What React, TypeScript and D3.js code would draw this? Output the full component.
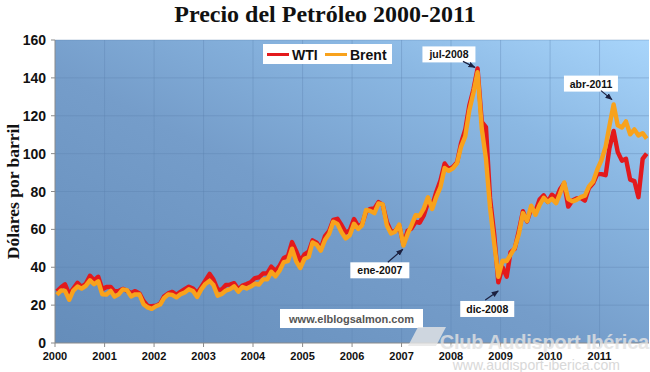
import React from 'react'
import * as d3 from 'd3'

// monthly prices, Jan 2000 .. Dec 2011 (USD per barrel)
const startYear = 2000

const wti = [
  27.3, 29.4, 31.0, 25.7, 28.8, 31.8, 29.7, 31.3, 35.5, 33.1, 35.0, 28.4,
  29.6, 29.6, 27.2, 27.5, 28.6, 27.6, 26.4, 27.4, 26.2, 22.2, 19.6, 19.4,
  19.7, 20.7, 24.5, 26.2, 27.0, 25.5, 27.0, 28.4, 29.7, 28.8, 26.4, 29.5,
  33.0, 36.5, 33.5, 28.2, 28.1, 30.7, 30.8, 31.6, 28.3, 30.3, 31.1, 32.1,
  34.3, 34.7, 36.7, 36.8, 40.3, 38.0, 40.8, 44.9, 45.9, 53.3, 48.5, 43.2,
  46.8, 48.2, 54.2, 53.0, 49.8, 56.4, 59.0, 65.0, 65.6, 62.3, 58.3, 59.4,
  65.5, 61.6, 62.7, 69.4, 70.8, 71.0, 74.4, 73.0, 63.8, 58.9, 59.1, 62.0,
  52.0, 59.3, 60.4, 64.0, 63.5, 67.5, 74.1, 72.4, 79.9, 85.8, 94.8, 91.7,
  93.0, 95.4, 105.5, 112.6, 125.4, 134.0, 145.0, 116.7, 114.0, 76.6, 57.3, 32.0,
  40.0, 35.0, 47.9, 49.7, 59.0, 69.6, 64.2, 71.1, 69.4, 75.7, 78.0, 74.5,
  78.3, 76.4, 81.2, 84.3, 72.0, 75.3, 76.3, 76.6, 75.2, 81.9, 84.3, 89.2,
  89.2, 88.6, 102.9, 112.0, 100.9, 96.3, 97.3, 86.3, 85.5, 77.0, 97.2, 100.0,
]

const brent = [
  25.5, 27.8, 27.5, 22.8, 27.7, 29.8, 28.7, 30.2, 33.1, 31.0, 32.6, 25.7,
  25.6, 27.5, 24.5, 25.7, 28.3, 27.9, 24.6, 25.7, 25.6, 20.5, 18.8, 18.0,
  19.4, 20.3, 23.7, 25.7, 25.4, 24.1, 25.7, 26.7, 28.4, 27.5, 24.3, 28.3,
  31.2, 32.8, 30.6, 25.0, 25.9, 27.7, 28.4, 29.9, 27.1, 29.6, 28.8, 29.8,
  31.3, 30.9, 33.6, 33.6, 37.6, 35.2, 38.2, 42.7, 43.2, 49.8, 43.1, 39.6,
  44.5, 45.5, 53.1, 51.9, 48.7, 54.4, 57.5, 64.0, 62.9, 58.5, 55.2, 56.9,
  63.0, 60.2, 62.1, 70.3, 69.8, 68.6, 73.7, 73.2, 62.0, 57.8, 58.8, 62.5,
  51.5, 57.6, 62.1, 67.5, 67.2, 71.1, 76.9, 70.8, 77.2, 82.3, 92.4, 90.9,
  92.2, 95.0, 103.6, 109.1, 122.8, 132.3, 143.0, 113.2, 97.2, 71.6, 52.5, 35.0,
  43.4, 43.3, 46.5, 50.2, 57.3, 68.6, 64.4, 72.5, 67.7, 72.8, 76.7, 74.5,
  76.2, 73.8, 78.8, 84.8, 76.0, 74.8, 75.6, 77.0, 77.8, 82.7, 85.3, 91.5,
  96.5, 103.7, 114.6, 126.0, 115.0, 113.8, 117.0, 110.2, 112.8, 109.6, 110.8, 107.9,
]

const yearLabels = ['2000', '2001', '2002', '2003', '2004', '2005', '2006', '2007', '2008', '2009', '2010', '2011']
const yTicks = [0, 20, 40, 60, 80, 100, 120, 140, 160]

// annotated points: date, price, box offset from the point, arrow start offset from the point
const notes = [
  { label: 'jul-2008', date: new Date(2008, 6, 3), value: 145, bx: -27, by: -14, w: 53, ax: -13, ay: -7 },
  { label: 'abr-2011', date: new Date(2011, 3, 10), value: 128, bx: -22, by: -17, w: 54, ax: -12, ay: -10 },
  { label: 'ene-2007', date: new Date(2007, 0, 18), value: 50, bx: -24, by: 22, w: 59, ax: -16, ay: 14 },
  { label: 'dic-2008', date: new Date(2008, 11, 22), value: 28, bx: -12, by: 19, w: 54, ax: -14, ay: 10 },
]

const W = 650
const H = 372
const margin = { top: 40, right: 1, bottom: 29, left: 55 }

const sans = "Arial, 'Liberation Sans', Helvetica, sans-serif"
const serif = "'Times New Roman', 'Liberation Serif', serif"

export default function App() {
  const x = d3.scaleTime()
    .domain([new Date(startYear, 0, 1), new Date(startYear + 12, 0, 1)])
    .range([margin.left, W - margin.right])
  const y = d3.scaleLinear()
    .domain([0, 160])
    .range([H - margin.bottom, margin.top])

  const monthDate = (i: number) => new Date(startYear + Math.floor(i / 12), i % 12, 15)

  const line = d3.line<number>()
    .x((d, i) => x(monthDate(i)))
    .y(d => y(d))

  const x0 = x.range()[0]
  const x1 = x.range()[1]
  const y0 = y.range()[0]
  const y1 = y.range()[1]
  const yearDates = yearLabels.map(l => new Date(+l, 0, 1))

  return (
    <div>
      <style>{'body{margin:0}'}</style>
      <svg width={W} height={H} style={{ display: 'block', background: '#fff' }}>
        <defs>
          <linearGradient id="bg" x1="0" y1="1" x2="1" y2="0">
            <stop offset="0" stopColor="#658dba" />
            <stop offset="0.45" stopColor="#759dca" />
            <stop offset="0.75" stopColor="#8bb8e3" />
            <stop offset="1" stopColor="#a8d5fb" />
          </linearGradient>
          <marker id="arr" viewBox="0 0 10 10" refX="9" refY="5" markerWidth="6" markerHeight="6" orient="auto">
            <path d="M0,1 L10,5 L0,9 Z" fill="#1c2140" />
          </marker>
        </defs>

        {/* title */}
        <text x={W / 2} y={22} textAnchor="middle" fontFamily={serif} fontWeight="bold" fontSize={24} fill="#111">
          Precio del Petróleo 2000-2011
        </text>

        {/* plot area */}
        <rect x={x0} y={y1} width={x1 - x0} height={y0 - y1} fill="url(#bg)" />

        {/* grid */}
        {yTicks.slice(1).map(t => (
          <line key={'gy' + t} x1={x0} x2={x1} y1={y(t)} y2={y(t)} stroke="#5a80ad" strokeOpacity={0.45} strokeWidth={0.8} />
        ))}
        {yearDates.slice(1).map((d, i) => (
          <line key={'gx' + i} x1={x(d)} x2={x(d)} y1={y1} y2={y0} stroke="#5a80ad" strokeOpacity={0.45} strokeWidth={0.8} />
        ))}

        {/* axes */}
        <line x1={x0} x2={x0} y1={y1} y2={y0} stroke="#8a8a8a" strokeWidth={1} />
        <line x1={x0} x2={x1} y1={y0} y2={y0} stroke="#8a8a8a" strokeWidth={1} />
        {yTicks.map(t => (
          <g key={'yt' + t}>
            <line x1={x0 - 4} x2={x0} y1={y(t)} y2={y(t)} stroke="#8a8a8a" />
            <text x={x0 - 9} y={y(t) + 5} textAnchor="end" fontFamily={sans} fontWeight="bold" fontSize={14} fill="#111">{t}</text>
          </g>
        ))}
        {yearDates.map((d, i) => (
          <g key={'xt' + i}>
            <line x1={x(d)} x2={x(d)} y1={y0} y2={y0 + 4} stroke="#8a8a8a" />
            <text x={x(d)} y={y0 + 17} textAnchor="middle" fontFamily={sans} fontWeight="bold" fontSize={11} fill="#111">{yearLabels[i]}</text>
          </g>
        ))}
        <text transform={`translate(19,${(y0 + y1) / 2}) rotate(-90)`} textAnchor="middle" fontFamily={serif} fontWeight="bold" fontSize={17.5} fill="#111">
          Dólares por barril
        </text>

        {/* series */}
        <path d={line(wti) ?? ''} fill="none" stroke="#e3191c" strokeWidth={4.4} strokeLinejoin="round" />
        <path d={line(brent) ?? ''} fill="none" stroke="#f8a21c" strokeWidth={4.4} strokeLinejoin="round" />

        {/* legend */}
        <rect x={263} y={44} width={129} height={20} fill="#fff" />
        <line x1={267} x2={289} y1={54.5} y2={54.5} stroke="#e3191c" strokeWidth={3} />
        <text x={292} y={59.5} fontFamily={sans} fontWeight="bold" fontSize={14} fill="#111">WTI</text>
        <line x1={325} x2={347} y1={54.5} y2={54.5} stroke="#f8a21c" strokeWidth={3} />
        <text x={350} y={59.5} fontFamily={sans} fontWeight="bold" fontSize={14} fill="#111">Brent</text>

        {/* annotations */}
        {notes.map(n => {
          const px = x(n.date)
          const py = y(n.value)
          const cx = px + n.bx
          const cy = py + n.by
          return (
            <g key={n.label}>
              <rect x={cx - n.w / 2} y={cy - 8} width={n.w} height={16} fill="#fff" />
              <text x={cx} y={cy + 4} textAnchor="middle" fontFamily={sans} fontWeight="bold" fontSize={10.5} fill="#111">{n.label}</text>
              <line x1={px + n.ax} y1={py + n.ay} x2={px - (n.ax > 0 ? -1 : 1)} y2={py + (n.ay > 0 ? 1 : -1)} stroke="#1c2140" strokeWidth={1.2} markerEnd="url(#arr)" />
            </g>
          )
        })}

        {/* source */}
        <rect x={280} y={309} width={143} height={19} fill="#fff" />
        <text x={351.5} y={322.5} textAnchor="middle" fontFamily={sans} fontWeight="bold" fontSize={11} fill="#555">www.elblogsalmon.com</text>

        {/* watermark */}
        <g opacity={0.8}>
          <path d="M418,327 L446,327 L436,346 L408,346 Z" fill="#e6e6e6" />
          <text x={649} y={349} textAnchor="end" fontFamily={sans} fontWeight="bold" fontSize={20} fill="#e2e2e2" style={{ letterSpacing: '-0.2px' }}>
            Club Audisport Ibérica
          </text>
          <text x={620} y={370} textAnchor="end" fontFamily={sans} fontSize={14} fill="#cfcfcf">
            www.audisport-iberica.com
          </text>
        </g>
      </svg>
    </div>
  )
}
